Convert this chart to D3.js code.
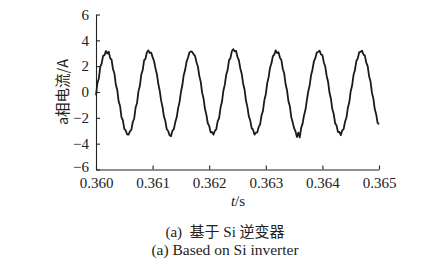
<!DOCTYPE html>
<html><head><meta charset="utf-8">
<script src="https://cdn.jsdelivr.net/npm/d3@7"></script>
<style>html,body{margin:0;padding:0;background:#fff;}svg{display:block;}</style>
</head><body>
<script>
const tStart = 0.360, tStep = 0.000025;
const current = [
-0.25,0.70,1.05,1.95,2.20,2.80,2.85,3.18,2.98,3.12,2.62,2.50,1.78,1.45,0.58,0.18,-0.72,-1.08,-1.95,-2.20,-2.85,-2.98,-3.28,-3.30,-3.05,-2.92,-2.32,-2.05,-1.20,-0.85,
0.05,0.48,1.35,1.70,2.45,2.58,3.08,3.22,3.02,3.05,2.70,2.40,1.85,1.40,0.65,0.12,-0.65,-1.15,-1.88,-2.25,-2.88,-3.02,-3.35,-3.42,-3.00,-2.88,-2.35,-1.98,-1.28,-0.80,
-0.02,0.52,1.30,1.72,2.35,2.65,3.05,3.15,3.10,2.92,2.80,2.30,1.98,1.25,0.80,-0.05,-0.50,-1.30,-1.75,-2.42,-2.62,-3.12,-3.10,-3.30,-3.00,-2.90,-2.25,-2.02,-1.22,-0.78,
0.08,0.55,1.32,1.70,2.45,2.62,3.15,3.32,3.15,3.18,2.70,2.45,1.82,1.40,0.64,0.18,-0.68,-1.15,-1.88,-2.20,-2.80,-2.92,-3.30,-3.15,-3.12,-2.70,-2.50,-1.80,-1.46,-0.62,
-0.18,0.68,1.15,1.88,2.22,2.78,2.90,3.22,3.02,3.08,2.65,2.48,1.80,1.45,0.60,0.14,-0.72,-1.10,-1.95,-2.35,-2.80,-3.05,-3.48,-3.15,-3.52,-2.78,-2.45,-1.82,-1.40,-0.64,
0.04,0.52,1.30,1.74,2.38,2.62,3.05,3.10,3.20,2.90,2.85,2.30,1.98,1.26,0.80,-0.04,-0.50,-1.32,-1.70,-2.42,-2.60,-3.10,-3.08,-3.35,-2.98,-2.88,-2.30,-1.98,-1.22,-0.80,
0.06,0.50,1.32,1.70,2.40,2.60,3.08,3.10,3.20,2.90,2.82,2.28,2.00,1.22,0.82,-0.05,-0.50,-1.32,-1.72,-2.38,-2.50
];
const xTicks = [0.360,0.361,0.362,0.363,0.364,0.365];
const yTicks = [-6,-4,-2,0,2,4,6];
const yLabel = "a相电流/A";
const caption1 = "(a)\u00a0\u00a0基于 Si 逆变器";
const caption2 = "(a) Based on Si inverter";

const W = 441, H = 269;
const svg = d3.select("body").append("svg").attr("width", W).attr("height", H);
const x = d3.scaleLinear().domain([0.360, 0.365]).range([96, 379]);
const y = d3.scaleLinear().domain([-6, 6]).range([169.5, 14.5]);
const serif = "'Liberation Serif','Times New Roman',serif";
const cjk = "'Liberation Serif','Noto Sans CJK SC',serif";

const xa = svg.append("g").attr("transform", "translate(0,169.5)")
  .call(d3.axisBottom(x).tickValues(xTicks).tickSizeInner(-4).tickSizeOuter(0).tickPadding(8).tickFormat(d3.format(".3f")));
const ya = svg.append("g").attr("transform", "translate(96,0)")
  .call(d3.axisLeft(y).tickValues(yTicks).tickSizeInner(-4).tickSizeOuter(0).tickPadding(7).tickFormat(d => d < 0 ? "\u2212" + Math.abs(d) : d));
[xa, ya].forEach(a => {
  a.attr("font-family", serif);
  a.selectAll("path,line").attr("stroke", "#222").attr("stroke-width", 1.1);
  a.selectAll("text").attr("font-family", serif).attr("font-size", 15).attr("fill", "#222");
});
ya.selectAll(".tick").filter(d => d === -6).select("text").attr("dy", "0.15em");

const line = d3.line().x((d, i) => x(tStart + i * tStep)).y(d => y(d));
svg.append("path").datum(current).attr("d", line)
  .attr("fill", "none").attr("stroke", "#1a1a1a").attr("stroke-width", 1.8).attr("stroke-linejoin", "round");

svg.append("text").attr("transform", "translate(68,92) rotate(-90)")
  .attr("text-anchor", "middle").attr("font-family", "'Noto Sans CJK SC',sans-serif")
  .attr("font-size", 14.5).attr("fill", "#222").text(yLabel);

const xl = svg.append("text").attr("x", 238).attr("y", 206).attr("text-anchor", "middle")
  .attr("font-family", serif).attr("font-size", 15).attr("fill", "#222");
xl.append("tspan").attr("font-style", "italic").text("t");
xl.append("tspan").text("/s");

svg.append("text").attr("x", 225).attr("y", 237).attr("text-anchor", "middle")
  .attr("font-family", cjk).attr("font-size", 15).attr("fill", "#222").text(caption1);
svg.append("text").attr("x", 225).attr("y", 255).attr("text-anchor", "middle")
  .attr("font-family", serif).attr("font-size", 15.5).attr("fill", "#222").text(caption2);
</script>
</body></html>
